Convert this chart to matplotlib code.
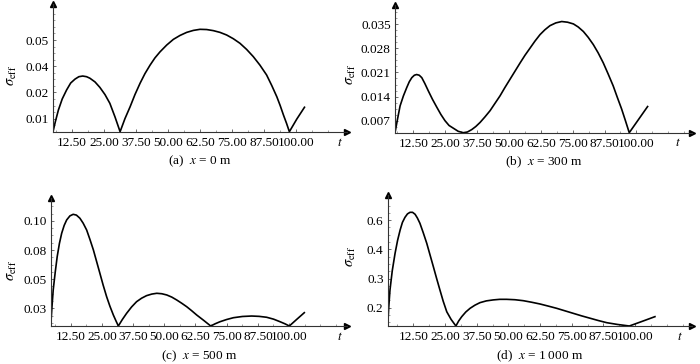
import matplotlib.pyplot as plt
from matplotlib.ticker import AutoMinorLocator

plt.rcParams['font.family'] = ['Liberation Serif', 'DejaVu Serif']
plt.rcParams['mathtext.fontset'] = 'stix'

W, H = 700, 364

# (a) x = 0 m
t_a = [5.1, 6.0, 7.2, 8.7, 10.4, 12.0, 13.7, 15.2, 16.7, 18.2, 19.5, 21.5, 23.4, 25.4, 27.3, 29.3,
       31.3, 33.2, 35.2, 37.1, 39.1, 41.0, 43.0, 44.9, 46.9, 49.5, 52.1, 54.7, 57.3, 59.9, 62.5,
       65.1, 67.7, 70.3, 72.9, 75.5, 78.1, 80.7, 83.3, 85.9, 88.5, 90.5, 92.5, 93.8, 95.1, 96.3,
       97.4, 100.3, 103.3]
s_a = [0.006, 0.0105, 0.0159, 0.021, 0.0251, 0.0283, 0.0301, 0.0312, 0.0315, 0.0312, 0.0305, 0.0288,
       0.0263, 0.0230, 0.0190, 0.0128, 0.006, 0.0120, 0.0174, 0.0230, 0.0282, 0.0326, 0.0365, 0.0398,
       0.0426, 0.0457, 0.0483, 0.0501, 0.0515, 0.0524, 0.0529, 0.0528, 0.0523, 0.0515, 0.0503, 0.0486,
       0.0465, 0.0437, 0.0404, 0.0365, 0.0320, 0.0272, 0.0220, 0.0180, 0.0136, 0.0098, 0.006, 0.0118,
       0.0172]

# (b) x = 300 m
t_b = [5.3, 6.3, 7.3, 8.6, 9.9, 10.9, 11.9, 12.9, 13.8, 14.8, 15.8, 17.0, 18.4, 20.0, 21.7, 23.3,
       24.9, 26.5, 28.2, 30.1, 32.1, 33.7, 35.4, 37.0, 38.7, 40.6, 42.6, 44.5, 46.5, 48.4, 50.4, 52.4,
       54.4, 56.3, 58.3, 60.2, 62.2, 64.1, 66.1, 68.4, 70.7, 73.0, 75.3, 77.2, 79.2, 81.1, 83.1, 85.0,
       87.0, 88.9, 90.9, 92.5, 94.2, 95.7, 97.2, 100.8, 104.4]
s_b = [0.0035, 0.0075, 0.0113, 0.0142, 0.0166, 0.0183, 0.0195, 0.0202, 0.0204, 0.0202, 0.0195, 0.0178,
       0.0156, 0.0132, 0.0109, 0.0088, 0.0070, 0.0056, 0.0048, 0.0039, 0.0035, 0.0037, 0.0044, 0.0053,
       0.0065, 0.0081, 0.0099, 0.0120, 0.0142, 0.0166, 0.0190, 0.0214, 0.0238, 0.0260, 0.0281, 0.0301,
       0.0320, 0.0334, 0.0346, 0.0354, 0.0358, 0.0356, 0.0351, 0.0342, 0.0329, 0.0312, 0.0291, 0.0267,
       0.0238, 0.0206, 0.0171, 0.0138, 0.0104, 0.0070, 0.0035, 0.0073, 0.0111]

# (c) x = 500 m
t_c = [4.5, 5.0, 5.5, 6.3, 7.1, 8.0, 8.9, 9.9, 10.9, 12.2, 13.5, 14.8, 16.2, 17.5, 18.9, 20.2, 21.6,
       22.9, 24.2, 25.5, 26.9, 28.2, 29.6, 30.6, 31.6, 33.2, 34.9, 36.9, 38.9, 40.9, 42.9, 45.0, 47.0,
       49.0, 51.0, 53.0, 55.0, 57.0, 59.0, 61.0, 63.0, 65.8, 68.6, 70.4, 72.3, 75.0, 77.7, 81.3, 85.0,
       88.0, 91.0, 93.8, 96.4, 98.3, 100.1, 103.1, 106.1]
s_c = [0.0102, 0.027, 0.0423, 0.058, 0.0721, 0.084, 0.0930, 0.1000, 0.1049, 0.1085, 0.1099, 0.1092,
       0.1064, 0.1020, 0.0959, 0.0876, 0.0781, 0.0677, 0.0573, 0.0468, 0.0364, 0.0280, 0.0200, 0.0150,
       0.0102, 0.0160, 0.0215, 0.0272, 0.0319, 0.0350, 0.0373, 0.0387, 0.0394, 0.0390, 0.0379, 0.0360,
       0.0334, 0.0305, 0.0274, 0.0238, 0.0200, 0.0152, 0.0102, 0.0122, 0.0140, 0.0160, 0.0176, 0.0187,
       0.0191, 0.0188, 0.0180, 0.0163, 0.0140, 0.0122, 0.0102, 0.0162, 0.0221]

# (d) x = 1 000 m
t_d = [2.4, 2.8, 3.3, 4.2, 5.3, 6.3, 7.3, 8.2, 9.2, 10.2, 11.2, 12.2, 13.2, 14.1, 15.1, 16.4, 17.8,
       19.1, 20.4, 21.7, 23.0, 24.3, 25.7, 27.4, 29.3, 30.4, 31.6, 33.2, 34.9, 36.8, 38.8, 41.3, 44.0,
       46.6, 49.3, 52.6, 55.9, 59.2, 62.5, 65.8, 69.0, 72.3, 75.6, 78.9, 82.2, 85.5, 88.8, 93.0, 97.7,
       102.8, 107.8]
s_d = [0.056, 0.150, 0.241, 0.340, 0.429, 0.496, 0.549, 0.588, 0.614, 0.632, 0.640, 0.640, 0.630,
       0.611, 0.584, 0.536, 0.481, 0.421, 0.361, 0.300, 0.241, 0.183, 0.129, 0.090, 0.056, 0.082, 0.104,
       0.128, 0.147, 0.163, 0.176, 0.185, 0.190, 0.193, 0.193, 0.191, 0.186, 0.178, 0.169, 0.158, 0.147,
       0.134, 0.121, 0.108, 0.096, 0.084, 0.073, 0.064, 0.056, 0.080, 0.104]

t_ticks = [12.5, 25.0, 37.5, 50.0, 62.5, 75.0, 87.5, 100.0]
t_labels = ['12.50', '25.00', '37.50', '50.00', '62.50', '75.00', '87.50', '100.00']

yt_a, yl_a = [0.012, 0.024, 0.036, 0.048], ['0.01', '0.02', '0.04', '0.05']
yt_b, yl_b = [0.007, 0.014, 0.021, 0.028, 0.035], ['0.007', '0.014', '0.021', '0.028', '0.035']
yt_c, yl_c = [0.026, 0.052, 0.078, 0.104], ['0.03', '0.05', '0.08', '0.10']
yt_d, yl_d = [0.15, 0.30, 0.45, 0.60], ['0.2', '0.3', '0.4', '0.6']

captions = ['(a)  $x$ = 0 m', '(b)  $x$ = 300 m', '(c)  $x$ = 500 m', '(d)  $x$ = 1 000 m']

fig = plt.figure(figsize=(7, 3.64), dpi=100)


def px(x, y):
    return x / W, 1 - y / H


def panel(box, t, s, xlim, ylim, yt, yl, cap, ylab_xy, t_xy):
    left, top, right, bottom = box
    ax = fig.add_axes([left / W, 1 - bottom / H, (right - left) / W, (bottom - top) / H])
    ax.plot(t, s, color='black', lw=1.2)
    ax.set_xlim(*xlim)
    ax.set_ylim(*ylim)
    for side in ['top', 'right']:
        ax.spines[side].set_visible(False)
    for side in ['left', 'bottom']:
        ax.spines[side].set_color('#333333')
        ax.spines[side].set_linewidth(0.8)
    ax.set_xticks(t_ticks, t_labels)
    ax.set_yticks(yt, yl)
    ax.xaxis.set_minor_locator(AutoMinorLocator(2))
    ax.yaxis.set_minor_locator(AutoMinorLocator(4))
    ax.tick_params(direction='in', length=2.5, width=0.6, color='#555555', labelsize=9.5, pad=3)
    ax.tick_params(which='minor', direction='in', length=1.3, width=0.5, color='#777777')
    ax.tick_params(axis='x', pad=3.5)
    ax.patch.set_visible(False)
    ax.plot(1, 0, '>', color='black', ms=4, transform=ax.transAxes, clip_on=False)
    ax.plot(0, 1, '^', color='black', ms=4, transform=ax.transAxes, clip_on=False)
    cx = (left + right) / 2
    fig.text(*px(cx, bottom + 30), cap, ha='center', va='center', fontsize=9.5)
    fig.text(*px(*ylab_xy), r'$\sigma_{\mathrm{eff}}$', rotation=90, ha='center', va='center', fontsize=10.5)
    fig.text(*px(*t_xy), '$t$', ha='center', va='center', fontsize=9.5)
    return ax


panel((53, 4, 347, 131.7), t_a, s_a, (5.1, 119.9), (0.006, 0.0645), yt_a, yl_a, captions[0],
      (12, 75), (340, 143))
panel((395, 5, 691.7, 132.7), t_b, s_b, (5.3, 121.7), (0.0035, 0.0406), yt_b, yl_b, captions[1],
      (351, 74), (678, 143))
panel((50.7, 198.3, 347, 326), t_c, s_c, (4.5, 123.2), (0.0102, 0.1242), yt_c, yl_c, captions[2],
      (12, 270), (340, 337))
panel((387.7, 195, 691.7, 326), t_d, s_d, (2.4, 122.3), (0.056, 0.729), yt_d, yl_d, captions[3],
      (351, 256), (680, 337))

fig.savefig('out.png', dpi=100)
